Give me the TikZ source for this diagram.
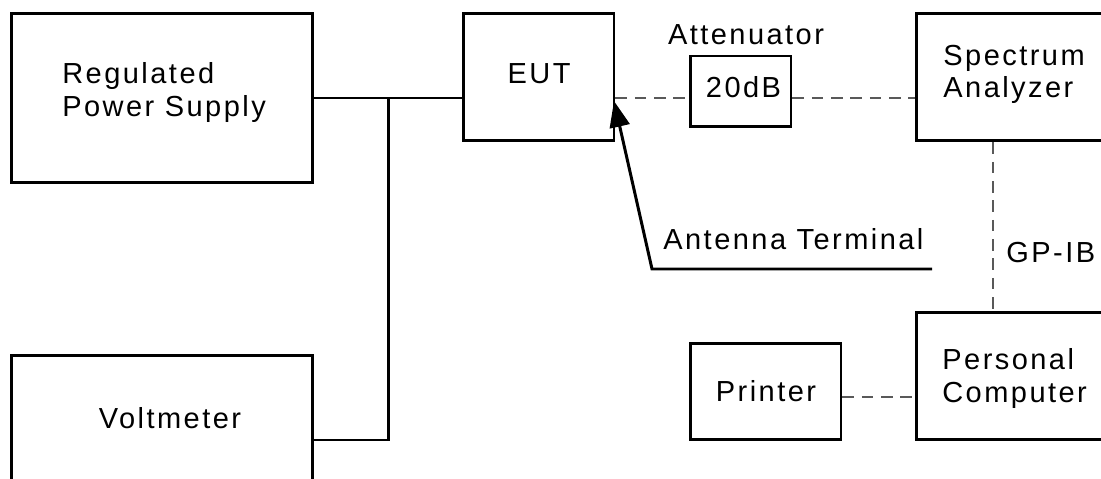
\documentclass[tikz,border=0pt]{standalone}
\usepackage{fontspec}
\setmainfont{Liberation Sans}[LetterSpace=8.5]
\usetikzlibrary{arrows.meta}

\begin{document}
\begin{tikzpicture}[
                    x=0.02cm, y=-0.02cm,
                    box/.style={
                        rectangle,
                        draw,
                        line width=1.7pt,
                        inner sep=0pt
                    },
                    lbl/.style={
                        inner sep=0pt,
                        align=left,
                        font=\fontsize{16.5}{18.5}\selectfont
                    },
                    wire/.style={line width=1.7pt},
                    sig/.style={draw=black!65, line width=0.7pt, dash pattern=on 6.5pt off 4.5pt}
                ]
                    \useasboundingbox (0,0) rectangle (1101,479);
                    \clip (0,0) rectangle (1101,479);

                    % Boxes
                    \node[box, minimum width=6.02cm, minimum height=3.4cm] (ps) at (162,98) {};
                    \node[box, minimum width=6.02cm, minimum height=3.4cm] (vm) at (162,440) {};
                    \node[box, minimum width=3.02cm, minimum height=2.56cm] (eut) at (538.5,77) {};
                    \node[box, minimum width=2.02cm, minimum height=1.42cm] (att) at (740.5,91.5) {};
                    \node[box, minimum width=4cm, minimum height=2.56cm] (sa) at (1016,77) {};
                    \node[box, minimum width=4cm, minimum height=2.56cm] (pc) at (1016,376) {};
                    \node[box, minimum width=3.02cm, minimum height=1.94cm] (pr) at (765.5,391.5) {};

                    % Texts
                    \node[lbl, anchor=north west] (pstxt) at (62,62.5) {Regulated\\Power Supply};
                    \node[lbl, anchor=base] (vmtxt) at (170,428) {Voltmeter};
                    \node[lbl, anchor=base] (euttxt) at (539,84) {EUT};
                    \node[lbl, anchor=base] (atttxt) at (743.5,98) {20dB};
                    \node[lbl, anchor=base] (attname) at (746,45) {Attenuator};
                    \node[lbl, anchor=north west] (satxt) at (943,44.5) {Spectrum\\Analyzer};
                    \node[lbl, anchor=north west] (pctxt) at (942,348.5) {Personal\\Computer};
                    \node[lbl, anchor=base] (prtxt) at (766,401) {Printer};
                    \node[lbl, anchor=base west] (bustxt) at (1006,263) {GP-IB};
                    \node[lbl, anchor=base west] (anttxt) at (663,250) {Antenna Terminal};

                    \coordinate (jn) at (388,98);
                    \coordinate (bus) at (993,200);
                    \coordinate (rfport) at (614,101);
                    \coordinate (antbend) at (652,269);
                    \coordinate (antend) at (932,269);

                    % Power
                    \draw[wire] (ps.east) -- (eut.west |- ps.east);
                    \draw[wire] (vm.east) -| (jn);

                    % Signal
                    \draw[sig] (eut.east |- ps.east) -- (att.west |- ps.east);
                    \draw[sig] (att.east |- ps.east) -- (sa.west |- ps.east);
                    \draw[sig] (sa.south -| bus) -- (pc.north -| bus);
                    \draw[sig] ([yshift=-0.11cm]pr.east) -- ([yshift=-0.11cm]pr.east -| pc.west);

                    % Antenna
                    \draw[wire, -{Triangle[length=0.52cm, width=0.4cm]}] (antend) -- (antbend) -- (rfport);
                \end{tikzpicture}
\end{document}
